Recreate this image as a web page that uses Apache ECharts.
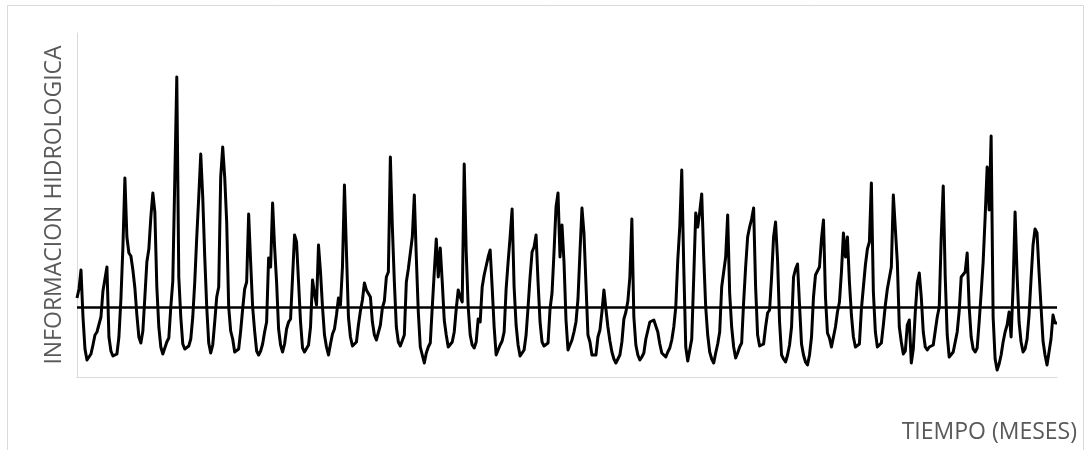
<!DOCTYPE html>
<html>
<head>
<meta charset="utf-8">
<script src="https://cdn.jsdelivr.net/npm/echarts@6/dist/echarts.min.js"></script>
<style>
html,body{margin:0;padding:0;background:#fff;}
#chart{width:1085px;height:450px;}
</style>
</head>
<body>
<div id="chart"></div>
<script>
const yTitle = 'INFORMACION HIDROLOGICA';
const xTitle = 'TIEMPO (MESES)';
const meanValue = 70;
const flow = [
79,88,107,60,28,17,16,23,32,42,45,47,
60,86,98,110,40,26,21,20,23,40,78,130,
199,140,124,121,107,89,62,40,34,46,80,115,
128,160,184,165,90,50,30,23,25,35,39,70,
96,97,300,100,60,33,28,27,31,38,60,95,
140,180,223,180,120,70,34,24,32,55,80,90,
200,230,200,155,70,46,38,25,24,28,46,68,
88,95,163,115,70,46,26,22,26,33,45,55,
119,110,174,130,95,48,32,25,33,48,55,58,
100,142,135,95,55,29,25,26,32,50,97,83,
72,132,105,70,42,30,22,33,43,48,62,79,
72,110,192,125,60,40,31,32,35,52,66,77,
94,87,87,80,55,42,37,39,52,69,76,100,
105,220,150,95,50,35,31,29,42,95,108,109,
140,182,120,65,30,22,14,24,30,34,70,105,
138,100,129,95,57,42,30,32,35,45,68,87,
80,75,213,125,70,42,32,29,35,58,55,90,
102,100,120,127,90,50,22,20,32,36,45,88,
115,140,168,90,52,32,21,23,27,42,70,100,
125,130,142,95,55,35,31,30,34,68,84,125,
170,184,120,152,115,57,27,28,37,45,55,78,
125,169,144,144,42,35,22,20,22,40,47,65,
87,68,50,36,25,18,14,18,22,35,58,65,
76,100,158,60,32,22,17,20,24,38,37,55,
54,57,58,45,33,24,22,20,25,29,37,50,
70,117,150,207,110,30,16,16,38,100,164,150,
165,183,120,70,42,25,18,14,24,33,45,90,
92,120,162,84,50,30,19,24,30,34,75,110,
140,150,158,169,90,42,31,29,33,50,64,67,
100,140,155,117,55,22,18,15,22,32,50,100,
108,113,72,33,22,15,12,22,40,80,102,102,
110,138,157,80,44,39,30,29,50,65,75,105,
144,120,140,95,62,40,30,31,33,68,90,112,
128,135,194,85,45,30,28,34,52,72,88,90,
110,182,183,115,50,35,23,26,52,57,14,28,
65,94,104,80,45,30,27,30,31,32,34,60,
70,140,191,100,42,20,22,25,27,45,66,100,
100,105,124,70,40,28,25,29,55,84,115,160,
210,167,241,60,18,7,13,22,35,45,52,65,
40,90,165,102,55,35,25,28,38,62,98,132,
148,144,105,70,36,22,12,14,38,62,54,54
];
const months = flow.map((_, i) => String(i + 1));

const chart = echarts.init(document.getElementById('chart'), null, {renderer: 'canvas'});
chart.setOption({
  animation: false,
  backgroundColor: '#ffffff',
  grid: {left: 77, right: 28, top: 33, bottom: 73, containLabel: false},
  graphic: [
    {type: 'rect', silent: true, z: -1,
     shape: {x: 7.5, y: 5.5, width: 1076, height: 460},
     style: {fill: 'none', stroke: '#d9d9d9', lineWidth: 1}},
    {type: 'text', x: 1077, y: 432,
     style: {text: xTitle, fill: '#595959', font: '23px "Open Sans"', textAlign: 'right', textVerticalAlign: 'middle'}}
  ],
  xAxis: {
    type: 'category', data: months, boundaryGap: false,
    axisLine: {show: true, lineStyle: {color: '#d9d9d9', width: 1}},
    axisTick: {show: false}, axisLabel: {show: false}, splitLine: {show: false}
  },
  yAxis: {
    type: 'value', min: 0, max: 344,
    name: yTitle, nameLocation: 'middle', nameRotate: 90, nameGap: 11,
    nameTextStyle: {color: '#595959', fontFamily: 'Open Sans', fontSize: 23},
    axisLine: {show: true, lineStyle: {color: '#d9d9d9', width: 1}},
    axisTick: {show: false}, axisLabel: {show: false}, splitLine: {show: false}
  },
  series: [{
    type: 'line', data: flow, showSymbol: false, symbol: 'none',
    lineStyle: {color: '#000', width: 3, join: 'round'},
    markLine: {
      silent: true, symbol: 'none', label: {show: false},
      lineStyle: {color: '#000', width: 2.5, type: 'solid'},
      data: [{yAxis: meanValue}]
    }
  }]
});
</script>
</body>
</html>
